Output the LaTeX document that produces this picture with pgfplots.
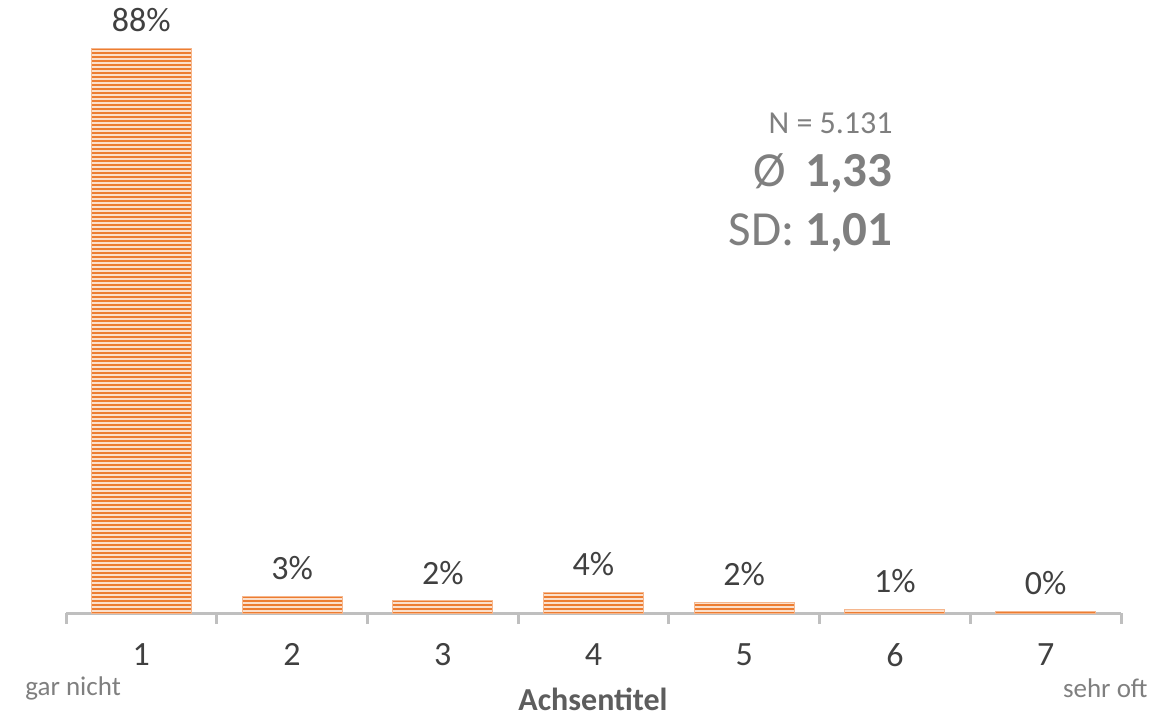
\documentclass[border=0pt]{standalone}
\usepackage{pgfplots}
\pgfplotsset{compat=1.18}
\usepackage{pgfplotstable}
\usepackage{fontspec}
\setmainfont{Carlito}
\usetikzlibrary{patterns.meta}
\definecolor{barorange}{HTML}{ED7D31}
\definecolor{barlight}{HTML}{FBE0CC}
\definecolor{lbl}{HTML}{404040}
\definecolor{stat}{HTML}{7F7F7F}
\definecolor{axgray}{HTML}{BFBFBF}
\pgfplotstableread{
x y lab
1 88.0 88\%
2 2.6 3\%
3 1.9 2\%
4 3.2 4\%
5 1.6 2\%
6 0.55 1\%
7 0.2 0\%
}\datatab
\begin{document}
\begin{tikzpicture}
\begin{axis}[
  scale only axis,
  width=527.5pt, height=306.5pt,
  xmin=0.5, xmax=7.5, ymin=0, ymax=95.5,
  axis y line=none,
  axis x line*=bottom,
  x axis line style={axgray, line width=1.5pt, -},
  xtick={1,...,7},
  xticklabels={1,2,3,4,5,6,7},
  major tick length=0pt,
  minor xtick={0.5,1.5,...,7.5},
  minor tick length=5.5pt,
  tick align=outside,
  minor tick style={axgray, line width=1.5pt},
  xticklabel style={font=\fontsize{17}{20}\selectfont, text=lbl, anchor=north, inner sep=0pt, yshift=-15pt},
  clip=false,
]
\addplot[ybar, bar width=50pt, draw=barorange!55!white, line width=0.5pt, fill=barlight,
  postaction={pattern={Lines[angle=0, distance=2pt, line width=1pt]}, pattern color=barorange},
  nodes near coords=\pgfplotspointmeta,
  point meta=explicit symbolic,
  every node near coord/.append style={font=\fontsize{17}{20}\selectfont, text=lbl, anchor=south, inner sep=0pt, yshift=8pt}
] table[x=x, y=y, meta=lab] {\datatab};
\end{axis}
\node[anchor=west, inner sep=0pt, text=stat, font=\fontsize{13.5}{16}\selectfont] at (-20.5pt,-37.5pt) {gar nicht};
\node[anchor=east, inner sep=0pt, text=stat, font=\fontsize{13.5}{16}\selectfont] at (541pt,-37.5pt) {sehr oft};
\node[inner sep=0pt, text=lbl!85!white, font=\fontsize{16}{19}\selectfont\bfseries] at (263.5pt,-43.3pt) {Achsentitel};
\node[anchor=east, inner sep=0pt, text=stat, font=\fontsize{16}{19}\selectfont] at (413.5pt,245pt) {N = 5.131};
\node[anchor=east, inner sep=0pt, text=stat, font=\fontsize{24.5}{29}\selectfont] at (413.5pt,220pt) {Ø\, \textbf{1,33}};
\node[anchor=east, inner sep=0pt, text=stat, font=\fontsize{24.5}{29}\selectfont] at (413.5pt,190pt) {SD: \textbf{1,01}};
\pgfresetboundingbox
\path (-33pt,306.5pt) rectangle (552pt,-52pt);
\end{tikzpicture}
\end{document}
